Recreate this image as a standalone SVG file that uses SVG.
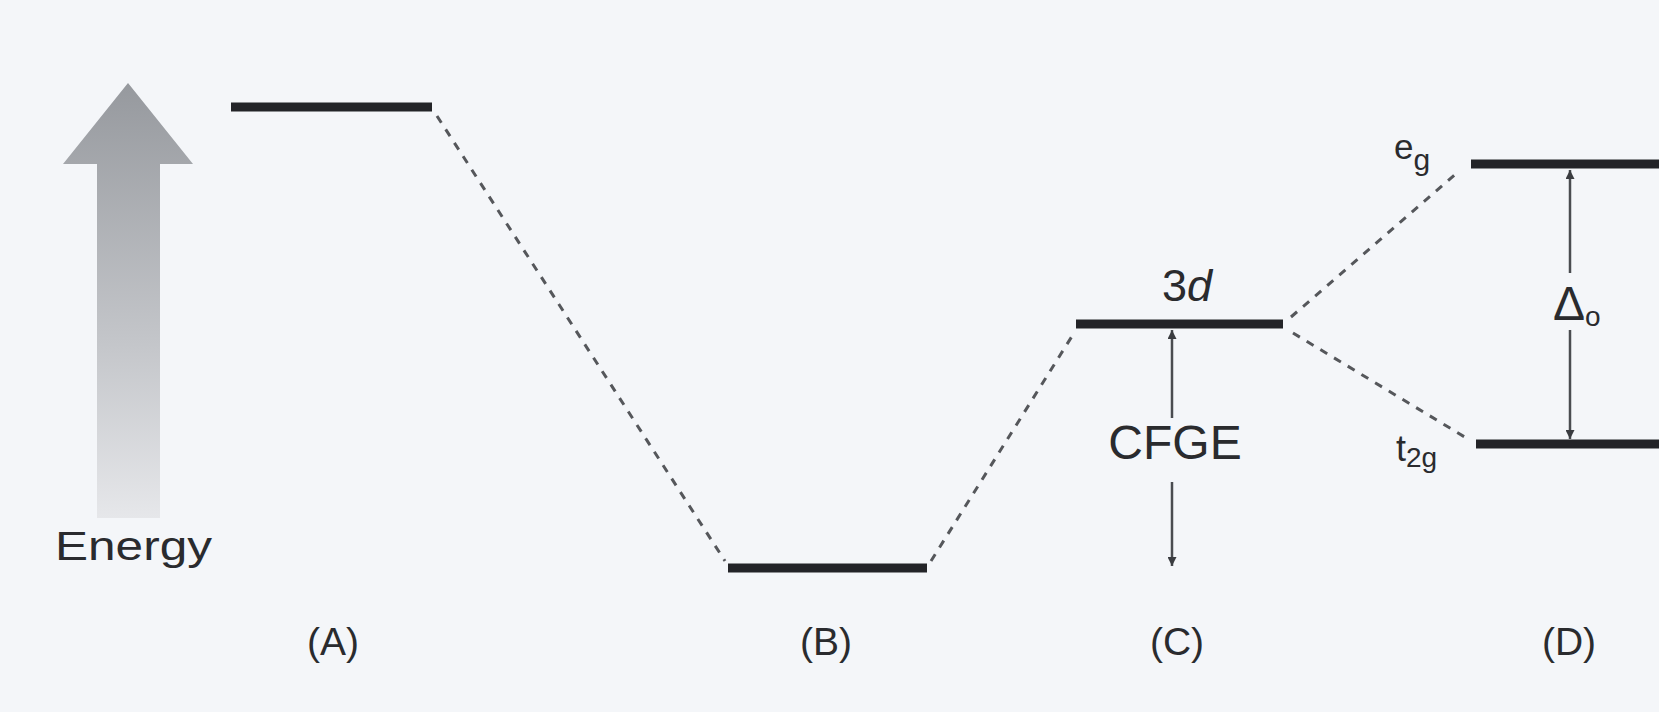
<svg xmlns="http://www.w3.org/2000/svg" width="1659" height="712" viewBox="0 0 1659 712">
<defs>
<linearGradient id="ag" x1="0" y1="0" x2="0" y2="1">
<stop offset="0" stop-color="#96999e"/>
<stop offset="0.6" stop-color="#c4c6ca"/>
<stop offset="1" stop-color="#e6e7ea"/>
</linearGradient>
<marker id="ah" viewBox="0 0 10 10" refX="10" refY="5" markerWidth="9" markerHeight="9" markerUnits="userSpaceOnUse" orient="auto-start-reverse">
<path d="M0,0 L10,5 L0,10 z" fill="#3a3c40"/>
</marker>
<style>
.lvl{stroke:#232428;stroke-width:9;stroke-linecap:butt}
.dash{stroke:#55575b;stroke-width:3;stroke-dasharray:8 8;fill:none}
.arr{stroke:#4a4c50;stroke-width:2.5;fill:none}
.t{font-family:"Liberation Sans",Arial,sans-serif;fill:#2a2b2e}
</style>
</defs>
<rect width="1659" height="712" fill="#f4f6f9"/>
<g id="energy-axis">
<polygon points="128,83 193,164 160,164 160,518 97,518 97,164 63,164" fill="url(#ag)"/>
<text class="t" x="55" y="560" font-size="41" textLength="157" lengthAdjust="spacingAndGlyphs">Energy</text>
</g>
<g id="level-A">
<line class="lvl" x1="231" y1="107" x2="432" y2="107"/>
<text class="t" x="333" y="655" font-size="39" text-anchor="middle">(A)</text>
</g>
<g id="level-B">
<line class="lvl" x1="728" y1="568" x2="927" y2="568"/>
<text class="t" x="826" y="655" font-size="39" text-anchor="middle">(B)</text>
</g>
<g id="level-C">
<line class="lvl" x1="1076" y1="324" x2="1283" y2="324"/>
<text class="t" x="1187" y="301" font-size="45" text-anchor="middle">3<tspan font-style="italic">d</tspan></text>
<text class="t" x="1175" y="459" font-size="48" text-anchor="middle">CFGE</text>
<text class="t" x="1177" y="655" font-size="39" text-anchor="middle">(C)</text>
</g>
<g id="level-eg">
<line class="lvl" x1="1471" y1="164" x2="1659" y2="164"/>
<text class="t" x="1394" y="159" font-size="35" >e<tspan font-size="30" dy="11">g</tspan></text>
</g>
<g id="level-t2g">
<line class="lvl" x1="1476" y1="444" x2="1659" y2="444"/>
<text class="t" x="1396" y="461" font-size="36">t<tspan font-size="28" dy="6">2g</tspan></text>
<text class="t" x="1569" y="655" font-size="39" text-anchor="middle">(D)</text>
</g>
<g id="delta-o">
<text class="t" x="1553" y="320" font-size="48">Δ<tspan font-size="28" dy="6">o</tspan></text>
</g>
<g id="connectors">
<line class="dash" x1="437" y1="116" x2="725" y2="561"/>
<line class="dash" x1="931" y1="561" x2="1074" y2="333"/>
<line class="dash" x1="1291" y1="317" x2="1458" y2="172"/>
<line class="dash" x1="1293" y1="333" x2="1468" y2="439"/>
<line class="arr" x1="1172" y1="418" x2="1172" y2="330" marker-end="url(#ah)"/>
<line class="arr" x1="1172" y1="482" x2="1172" y2="566" marker-end="url(#ah)"/>
<line class="arr" x1="1570" y1="273" x2="1570" y2="170" marker-end="url(#ah)"/>
<line class="arr" x1="1570" y1="330" x2="1570" y2="439" marker-end="url(#ah)"/>
</g>
</svg>
